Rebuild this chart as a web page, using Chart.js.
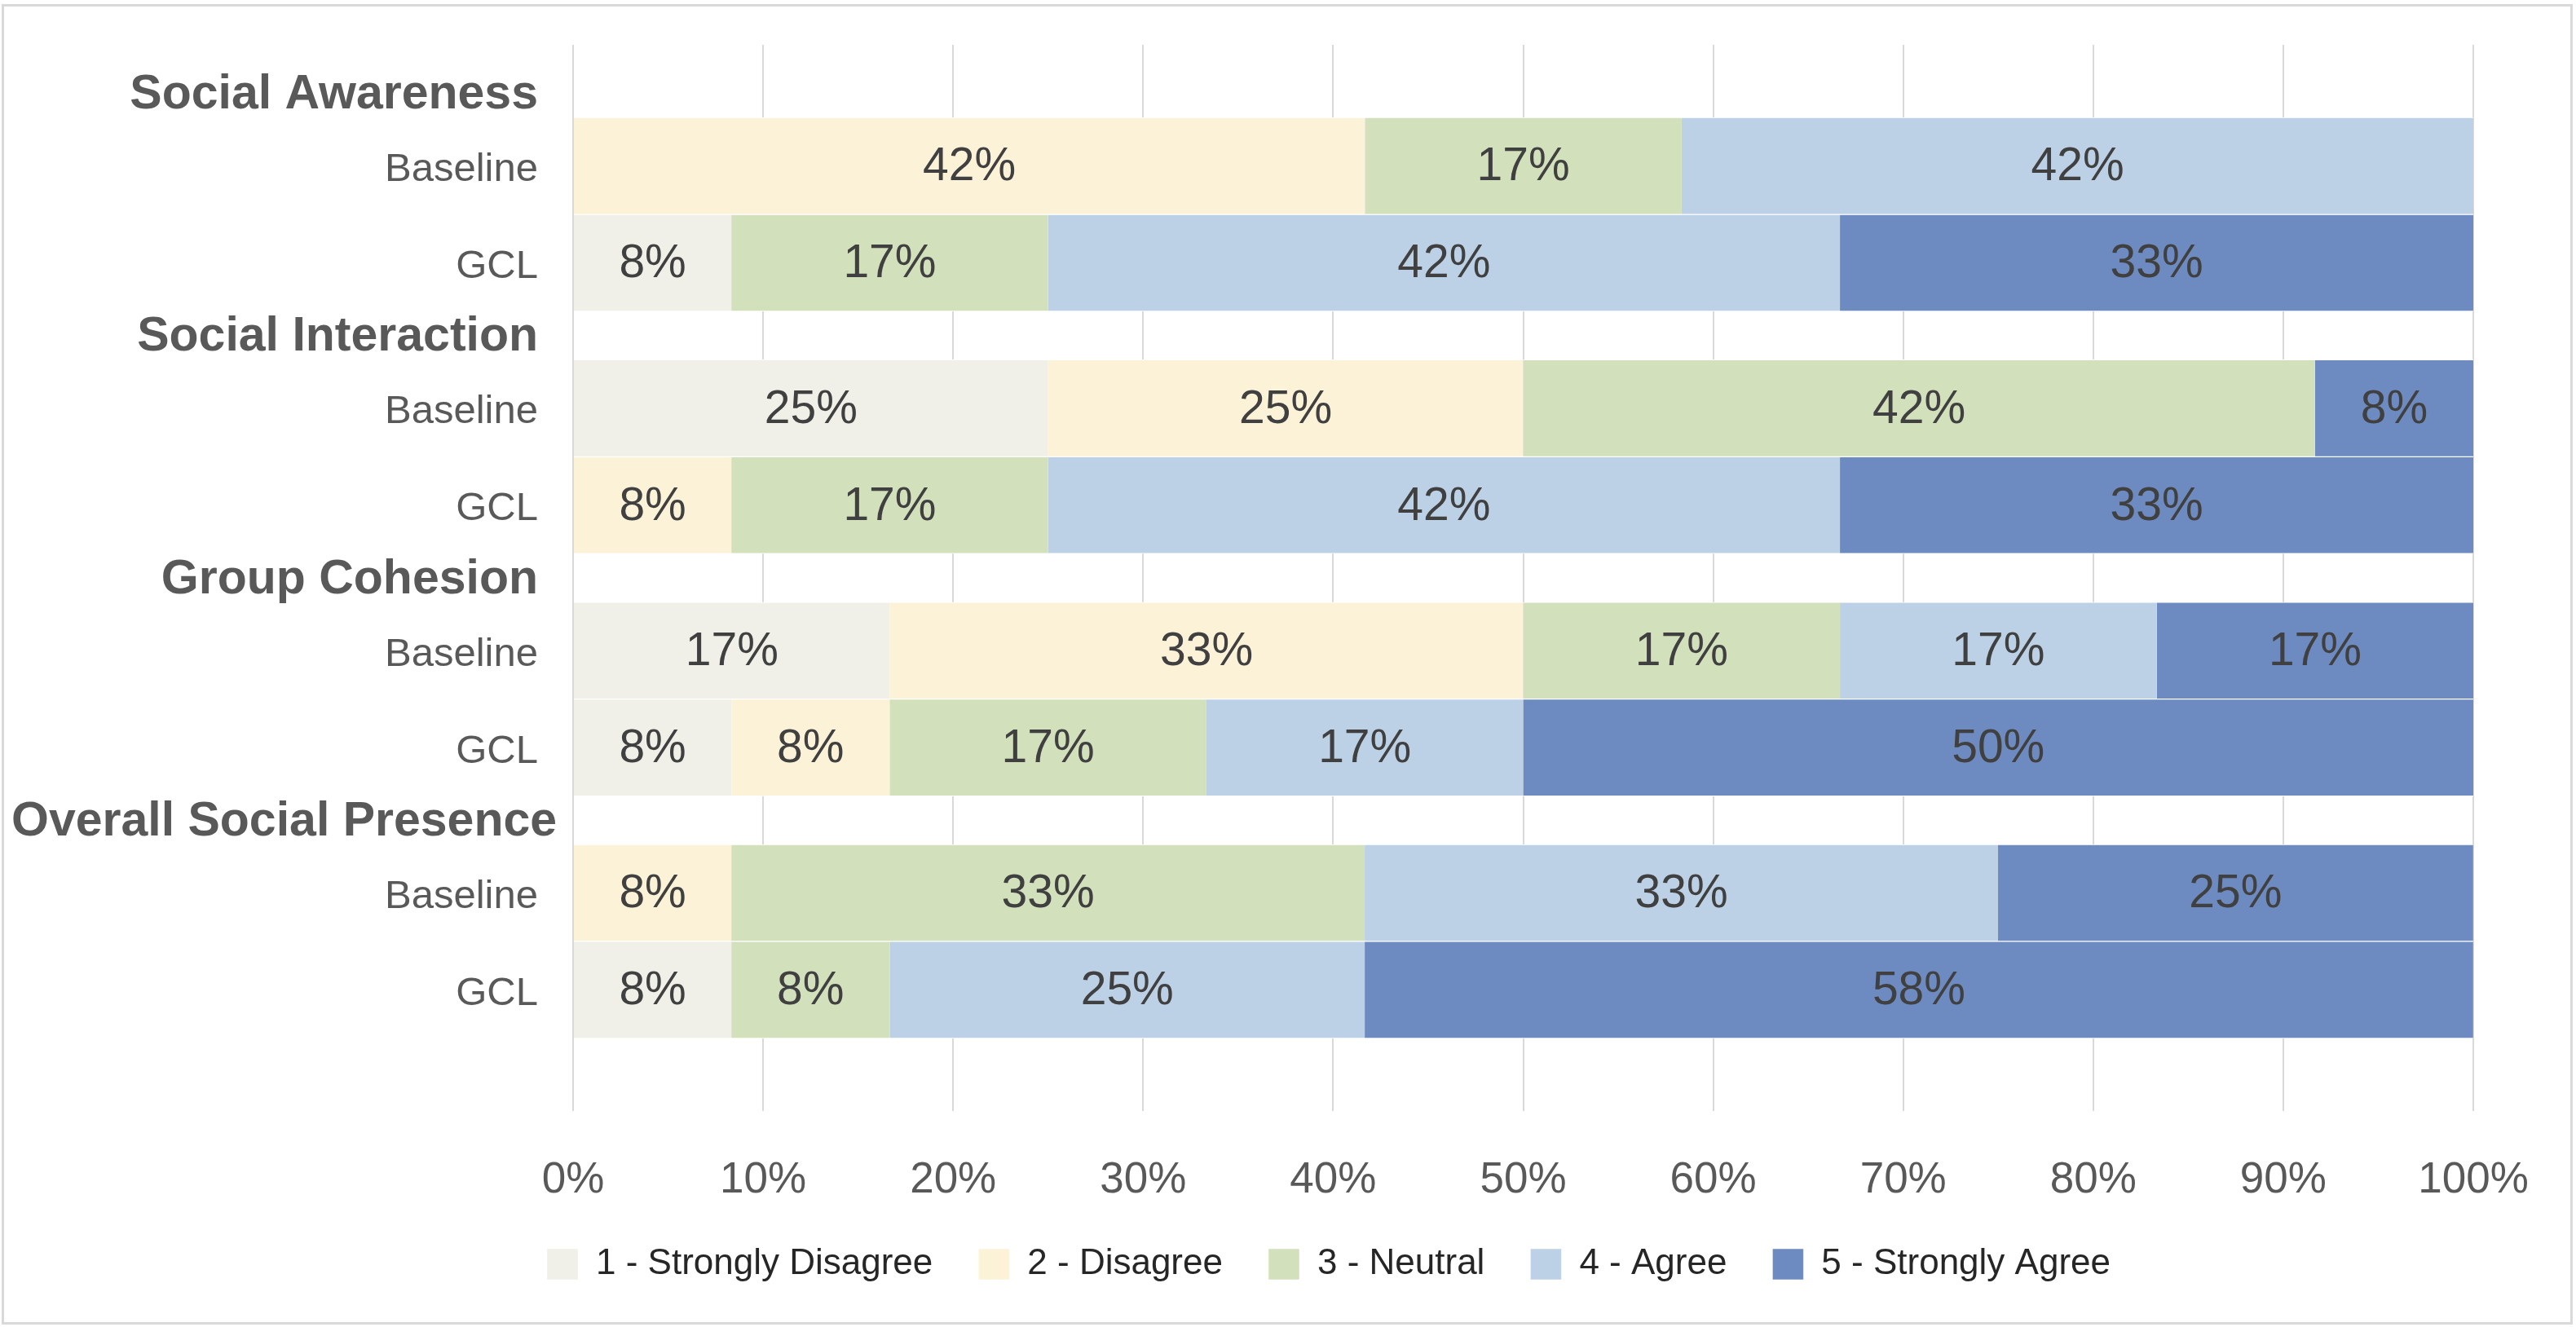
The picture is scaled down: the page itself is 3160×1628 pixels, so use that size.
<!DOCTYPE html>
<html>
<head>
<meta charset="utf-8">
<script src="https://cdn.jsdelivr.net/npm/chart.js@4.4.1/dist/chart.umd.min.js"></script>
<style>
  html, body { margin: 0; padding: 0; background: #ffffff; }
  #wrap { width: 3160px; height: 1628px; }
</style>
</head>
<body>
<div id="wrap"><canvas id="c" width="3160" height="1628"></canvas></div>
<script>
// ---- data ----
const groups = ['Social Awareness', 'Social Interaction', 'Group Cohesion', 'Overall Social Presence'];
const conditions = ['Baseline', 'GCL'];
const seriesNames = ['1 - Strongly Disagree', '2 - Disagree', '3 - Neutral', '4 - Agree', '5 - Strongly Agree'];
// rows: SA-Baseline, SA-GCL, SI-Baseline, SI-GCL, GC-Baseline, GC-GCL, OSP-Baseline, OSP-GCL (percent)
const stronglyDisagree = [0, 8.33, 25, 0, 16.67, 8.33, 0, 8.33];
const disagree         = [41.67, 0, 25, 8.33, 33.33, 8.33, 8.33, 0];
const neutral          = [16.67, 16.67, 41.67, 16.67, 16.67, 16.67, 33.33, 8.33];
const agree            = [41.67, 41.67, 0, 41.67, 16.67, 16.67, 33.33, 25];
const stronglyAgree    = [0, 33.33, 8.33, 33.33, 16.67, 50, 25, 58.33];
const xTicks = [0, 10, 20, 30, 40, 50, 60, 70, 80, 90, 100];

// ---- styles ----
const colors = ['#F0F0E8', '#FCF2D7', '#D3E0BC', '#BDD1E6', '#6D8BC1'];
const FONT = '"Liberation Sans", Arial, Helvetica, sans-serif';

// ---- layout helpers (row positions on a linear index axis) ----
const rowPos = (g, c) => 1.25 + g * 2.5 + c;
const headerPos = g => 0.52 + g * 2.5;
const rows = [];
groups.forEach((g, gi) => conditions.forEach((c, ci) => rows.push({ g: gi, c: ci, label: c })));

const allSeries = [stronglyDisagree, disagree, neutral, agree, stronglyAgree];
const datasets = allSeries.map((vals, si) => ({
  label: seriesNames[si],
  data: vals.map((v, ri) => ({ x: v, y: rowPos(rows[ri].g, rows[ri].c) })),
  backgroundColor: colors[si],
  borderColor: '#ffffff',
  borderWidth: { top: 1, bottom: 1, left: 0, right: 0 },
  borderSkipped: false,
  barPercentage: 1,
  categoryPercentage: 1
}));

const borderPlugin = {
  id: 'frame',
  beforeDraw(chart) {
    const ctx = chart.ctx;
    ctx.save();
    ctx.fillStyle = '#ffffff';
    ctx.fillRect(0, 0, chart.width, chart.height);
    ctx.strokeStyle = '#d9d9d9';
    ctx.lineWidth = 3;
    ctx.strokeRect(3.5, 6.5, 3151, 1617);
    ctx.restore();
  }
};

const labelPlugin = {
  id: 'labels',
  afterDatasetsDraw(chart) {
    const ctx = chart.ctx;
    ctx.save();
    ctx.font = '57px ' + FONT;
    ctx.fillStyle = '#404040';
    ctx.textAlign = 'center';
    ctx.textBaseline = 'middle';
    chart.data.datasets.forEach((ds, di) => {
      const meta = chart.getDatasetMeta(di);
      meta.data.forEach((el, i) => {
        const v = ds.data[i].x;
        if (!v) return;
        const cx = (el.x + el.base) / 2;
        ctx.fillText(Math.round(v) + '%', cx, el.y + 2);
      });
    });
    ctx.restore();
  },
  afterDraw(chart) {
    const ctx = chart.ctx;
    const ys = chart.scales.y;
    const rightX = 660;
    ctx.save();
    ctx.textBaseline = 'middle';
    ctx.fillStyle = '#595959';
    ctx.font = 'bold 59px ' + FONT;
    ctx.textAlign = 'left';
    groups.forEach((g, gi) => {
      const w = ctx.measureText(g).width;
      const x = Math.max(14, rightX - w);
      ctx.fillText(g, x, ys.getPixelForValue(headerPos(gi)));
    });
    ctx.font = '49px ' + FONT;
    ctx.textAlign = 'right';
    rows.forEach(r => {
      ctx.fillText(r.label, rightX, ys.getPixelForValue(rowPos(r.g, r.c)) + 5);
    });
    ctx.restore();
  }
};

new Chart(document.getElementById('c'), {
  type: 'bar',
  data: { datasets },
  plugins: [borderPlugin, labelPlugin],
  options: {
    indexAxis: 'y',
    responsive: false,
    animation: false,
    devicePixelRatio: 1,
    layout: { padding: { left: 226, right: 126, top: 55, bottom: 45 } },
    scales: {
      x: {
        type: 'linear',
        stacked: true,
        min: 0,
        max: 100,
        afterBuildTicks(scale) { scale.ticks = xTicks.map(v => ({ value: v })); },
        afterFit(scale) { scale.height = 110; },
        ticks: {
          callback: v => v + '%',
          color: '#595959',
          font: { family: FONT, size: 53 },
          padding: 54,
          maxRotation: 0
        },
        grid: { color: '#d9d9d9', lineWidth: 2, drawTicks: false },
        border: { display: false }
      },
      y: {
        type: 'linear',
        stacked: true,
        reverse: true,
        offset: false,
        min: 0,
        max: 11,
        afterBuildTicks(scale) { scale.ticks = [{ value: 0 }, { value: 11 }]; },
        afterFit(scale) { scale.width = 477; },
        ticks: { display: false },
        grid: { display: false, offset: false },
        border: { display: false }
      }
    },
    plugins: {
      legend: {
        position: 'bottom',
        labels: {
          boxWidth: 38,
          boxHeight: 38,
          padding: 56,
          color: '#262626',
          font: { family: FONT, size: 44 }
        }
      },
      tooltip: { enabled: false }
    }
  }
});
</script>
</body>
</html>
